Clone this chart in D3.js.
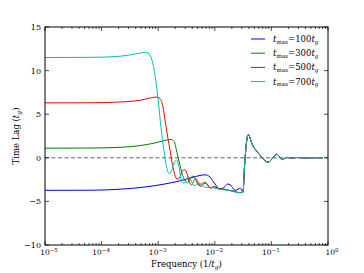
<!DOCTYPE html>
<html><head><meta charset="utf-8">
<script src="https://cdn.jsdelivr.net/npm/d3@7"></script>
<style>
html,body{margin:0;padding:0;background:#fff;}
svg{display:block;}
text{font-family:"DejaVu Serif",serif;fill:#000;}
</style></head>
<body><svg id="chart" width="364" height="273"></svg>
<script>
// ---- data (frequency given as log10 exponent, lag in t_g) ----
const seriesNames = ["100", "300", "500", "700"];
const seriesColors = ["#0000ff", "#008000", "#ff0000", "#00bfbf"];
const yTicks = [-10, -5, 0, 5, 10, 15];
const xTickExps = [-5, -4, -3, -2, -1, 0];

const exp100 = [-5.0, -4.205, -3.675, -3.233, -2.880, -2.527, -2.314, -2.173, -2.085, -1.996, -1.908, -1.837, -1.767, -1.696, -1.643, -1.590, -1.546];
const lag100 = [-3.73, -3.72, -3.60, -3.35, -3.00, -2.50, -2.10, -1.95, -2.20, -3.00, -3.60, -3.40, -3.00, -3.30, -3.75, -3.60, -3.50];

const exp300 = [-5.0, -4.205, -3.675, -3.322, -3.057, -2.880, -2.774, -2.721, -2.668, -2.624, -2.580, -2.527, -2.482, -2.438, -2.385, -2.332, -2.279, -2.226, -2.173, -2.120, -2.067, -2.014, -1.943, -1.837, -1.731, -1.625, -1.555];
const lag300 = [1.10, 1.12, 1.20, 1.40, 1.70, 2.00, 2.10, 1.90, 0.60, -0.60, -1.80, -2.60, -2.85, -2.40, -2.10, -2.60, -3.20, -3.00, -2.80, -3.20, -3.40, -3.30, -3.50, -3.60, -3.75, -3.90, -4.00];

const exp500 = [-5.0, -4.205, -3.675, -3.322, -3.145, -3.039, -2.968, -2.915, -2.871, -2.827, -2.792, -2.747, -2.703, -2.668, -2.624, -2.580, -2.535, -2.491, -2.447, -2.412, -2.367, -2.332, -2.288, -2.244, -2.200, -2.155, -2.111, -2.067, -2.014, -1.961, -1.873, -1.767, -1.661, -1.572];
const lag500 = [6.30, 6.31, 6.40, 6.60, 6.85, 6.97, 6.80, 5.80, 4.00, 2.20, 0.90, -0.80, -2.00, -2.45, -2.30, -1.60, -1.35, -1.80, -2.80, -3.10, -2.60, -2.40, -2.90, -3.30, -3.00, -2.90, -3.30, -3.50, -3.30, -3.50, -3.60, -3.70, -3.85, -4.00];

const exp700 = [-5.0, -4.205, -3.763, -3.498, -3.322, -3.233, -3.163, -3.110, -3.057, -3.004, -2.951, -2.898, -2.853, -2.809, -2.765, -2.721, -2.677, -2.633, -2.588, -2.544, -2.500, -2.456, -2.412, -2.367, -2.314, -2.261, -2.208, -2.138, -2.067, -1.996, -1.908, -1.802, -1.696, -1.590];
const lag700 = [11.50, 11.52, 11.60, 11.80, 12.00, 12.10, 11.90, 11.20, 9.50, 6.80, 3.50, 0.80, -1.00, -1.80, -1.50, -0.60, -0.25, -1.00, -2.70, -2.90, -2.40, -2.20, -2.70, -3.20, -3.00, -2.90, -3.20, -3.40, -3.40, -3.50, -3.60, -3.70, -3.80, -4.00];

// common high-frequency part shared by all curves
const tailExp = [-1.502, -1.475, -1.449, -1.431, -1.408, -1.387, -1.360, -1.320, -1.272, -1.201, -1.148, -1.087, -1.051, -1.007, -0.954, -0.906, -0.866, -0.818, -0.777, -0.724, -0.654, -0.548, -0.406, -0.230, -0.088];
const tailLag = [-3.95, -1.00, 1.20, 2.20, 2.65, 2.45, 1.90, 1.30, 0.85, 0.30, -0.10, -0.45, -0.50, -0.25, 0.15, 0.40, 0.20, -0.20, -0.10, 0.05, -0.02, 0.03, -0.01, 0.01, 0.00];

// ---- layout ----
const L = 45, R = 328, T = 27, B = 245;
const svg = d3.select("#chart");
const x = d3.scaleLog().domain([1e-5, 1]).range([L, R]);
const y = d3.scaleLinear().domain([-10, 15]).range([B, T]);

function build(ex, lg) {
  const pts = ex.map((e, i) => ({ f: Math.pow(10, e), v: lg[i] }));
  tailExp.forEach((e, i) => pts.push({ f: Math.pow(10, e), v: tailLag[i] }));
  return pts;
}
const series = [build(exp100, lag100), build(exp300, lag300), build(exp500, lag500), build(exp700, lag700)];

// zero line
svg.append("line").attr("x1", L).attr("x2", R).attr("y1", y(0)).attr("y2", y(0))
  .attr("stroke", "#555").attr("stroke-width", 0.9).attr("stroke-dasharray", "4,2.5");

const line = d3.line().x(d => x(d.f)).y(d => y(d.v)).curve(d3.curveMonotoneX);
svg.append("clipPath").attr("id", "clip").append("rect")
  .attr("x", L).attr("y", T).attr("width", R - L).attr("height", B - T);
const g = svg.append("g").attr("clip-path", "url(#clip)");
series.forEach((s, i) => {
  g.append("path").attr("d", line(s)).attr("fill", "none")
    .attr("stroke", seriesColors[i]).attr("stroke-width", 1);
});

// frame
svg.append("rect").attr("x", L).attr("y", T).attr("width", R - L).attr("height", B - T)
  .attr("fill", "none").attr("stroke", "#000").attr("stroke-width", 1);

// x ticks (major + minor, inward, top and bottom)
const tk = svg.append("g").attr("stroke", "#000").attr("stroke-width", 0.7);
const majors = xTickExps.map(e => Math.pow(10, e));
majors.forEach(v => {
  tk.append("line").attr("x1", x(v)).attr("x2", x(v)).attr("y1", B).attr("y2", B - 4);
  tk.append("line").attr("x1", x(v)).attr("x2", x(v)).attr("y1", T).attr("y2", T + 4);
});
x.ticks().forEach(v => {
  if (majors.some(m => Math.abs(m - v) / m < 1e-6)) return;
  tk.append("line").attr("x1", x(v)).attr("x2", x(v)).attr("y1", B).attr("y2", B - 2);
  tk.append("line").attr("x1", x(v)).attr("x2", x(v)).attr("y1", T).attr("y2", T + 2);
});
yTicks.forEach(v => {
  tk.append("line").attr("x1", L).attr("x2", L + 4).attr("y1", y(v)).attr("y2", y(v));
  tk.append("line").attr("x1", R).attr("x2", R - 4).attr("y1", y(v)).attr("y2", y(v));
});

// tick labels
yTicks.forEach(v => {
  svg.append("text").attr("x", L - 4).attr("y", y(v) + 3).attr("text-anchor", "end")
    .attr("font-size", 8).text(v < 0 ? "\u2212" + Math.abs(v) : String(v));
});
xTickExps.forEach((e, i) => {
  let cx = x(Math.pow(10, e));
  if (i === 0) cx += 4; else if (i === xTickExps.length - 1) cx += 4; else cx -= 0.5;
  const t = svg.append("text").attr("x", cx).attr("y", B + 10)
    .attr("text-anchor", "middle").attr("font-size", 7.5);
  t.append("tspan").text("10");
  t.append("tspan").attr("font-size", 5.5).attr("dy", -3.5).text(e < 0 ? "\u2212" + Math.abs(e) : String(e));
});

// axis labels
const xl = svg.append("text").attr("x", (L + R) / 2).attr("y", 267).attr("text-anchor", "middle").attr("font-size", 8.5);
xl.append("tspan").text("Frequency (1/");
xl.append("tspan").attr("font-style", "italic").text("t");
xl.append("tspan").attr("font-size", 6).attr("dy", 2).attr("font-style", "italic").text("g");
xl.append("tspan").attr("dy", -2).text(")");

const yl = svg.append("text").attr("transform", `translate(19,${(T + B) / 2}) rotate(-90)`)
  .attr("text-anchor", "middle").attr("font-size", 8.5);
yl.append("tspan").text("Time Lag (");
yl.append("tspan").attr("font-style", "italic").text("t");
yl.append("tspan").attr("font-size", 6).attr("dy", 2).attr("font-style", "italic").text("g");
yl.append("tspan").attr("dy", -2).text(")");

// legend
seriesNames.forEach((n, i) => {
  const yy = 39 + i * 14.2;
  svg.append("line").attr("x1", 251).attr("x2", 265).attr("y1", yy).attr("y2", yy)
    .attr("stroke", seriesColors[i]).attr("stroke-width", 1);
  const t = svg.append("text").attr("x", 273).attr("y", yy + 3).attr("font-size", 8.5);
  t.append("tspan").attr("font-style", "italic").text("t");
  t.append("tspan").attr("font-size", 5.5).attr("dy", 1.8).text("max");
  t.append("tspan").attr("dy", -1.8).text("=" + n);
  t.append("tspan").attr("font-style", "italic").text("t");
  t.append("tspan").attr("font-size", 5.5).attr("dy", 1.8).attr("font-style", "italic").text("g");
});
</script></body></html>
